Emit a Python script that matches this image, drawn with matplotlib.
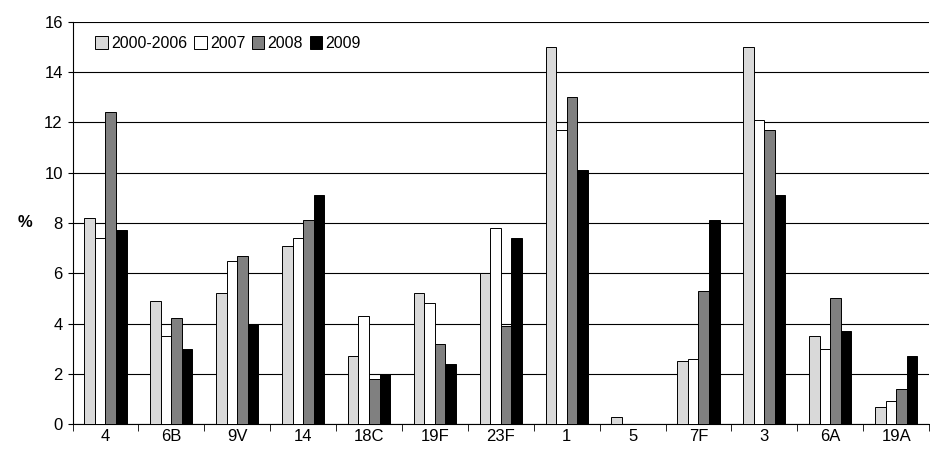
import numpy as np
import matplotlib.pyplot as plt

plt.rcParams['font.family'] = ['Liberation Sans', 'DejaVu Sans']

categories = ["4", "6B", "9V", "14", "18C", "19F", "23F", "1", "5", "7F", "3", "6A", "19A"]
s2000_2006 = [8.2, 4.9, 5.2, 7.1, 2.7, 5.2, 6.0, 15.0, 0.3, 2.5, 15.0, 3.5, 0.7]
s2007 = [7.4, 3.5, 6.5, 7.4, 4.3, 4.8, 7.8, 11.7, 0, 2.6, 12.1, 3.0, 0.9]
s2008 = [12.4, 4.2, 6.7, 8.1, 1.8, 3.2, 3.9, 13.0, 0, 5.3, 11.7, 5.0, 1.4]
s2009 = [7.7, 3.0, 4.0, 9.1, 2.0, 2.4, 7.4, 10.1, 0, 8.1, 9.1, 3.7, 2.7]
labels = ["2000-2006", "2007", "2008", "2009"]
colors = ["#d9d9d9", "white", "#808080", "black"]

fig, ax = plt.subplots(figsize=(9.3, 4.61), dpi=100)
fig.subplots_adjust(left=0.078, right=0.999, top=0.953, bottom=0.08)
x = np.arange(len(categories))
w = 0.16
for i, (vals, lab, c) in enumerate(zip([s2000_2006, s2007, s2008, s2009], labels, colors)):
    ax.bar(x + (i - 1.5) * w, vals, w, color=c, edgecolor="black", linewidth=0.7, label=lab, zorder=3)

ax.set_xlim(-0.5, len(categories) - 0.5)
ax.set_ylim(0, 16)
ax.set_yticks(range(0, 17, 2))
ax.set_xticks(x)
ax.set_xticklabels(categories)
ax.set_xticks(np.arange(-0.5, len(categories), 1), minor=True)
ax.tick_params(axis="x", which="major", length=0, labelsize=12)
ax.tick_params(axis="x", which="minor", length=5)
ax.tick_params(axis="y", labelsize=12)
ax.grid(True, axis="y", color="black", linewidth=0.8, zorder=0)
for s in ["top", "right"]:
    ax.spines[s].set_visible(False)
ax.set_ylabel("%", rotation=0, fontsize=12, fontweight="bold", labelpad=14, va="center")
ax.legend(loc="upper left", ncol=4, frameon=False, fontsize=11.5, handlelength=0.8,
          handleheight=0.8, handletextpad=0.2, columnspacing=0.4, bbox_to_anchor=(0.01, 1.0))

plt.savefig("out.png", dpi=100)
